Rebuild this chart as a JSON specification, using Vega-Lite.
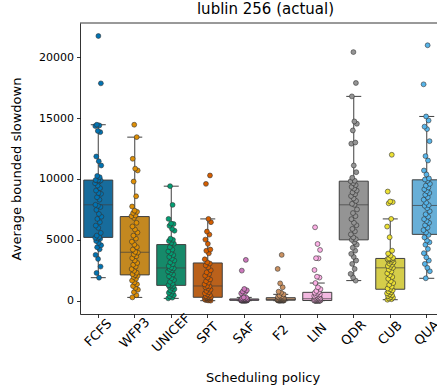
{
"$schema": "https://vega.github.io/schema/vega-lite/v6.json",
"width": 357, "height": 291,
"autosize": {"type": "none"},
"padding": {"left": 80, "top": 23, "right": 0, "bottom": 77},
"background": "white",
"title": {"text": "lublin 256 (actual)", "fontSize": 15, "font": "DejaVu Sans", "fontWeight": "normal", "color": "black", "offset": 6, "anchor": "middle", "dx": 7},
"config": {
 "view": {"stroke": null},
 "font": "DejaVu Sans",
 "axis": {"labelFont": "DejaVu Sans", "titleFont": "DejaVu Sans", "labelColor": "black", "titleColor": "black", "tickColor": "black", "domainColor": "black", "domainWidth": 0.8, "tickWidth": 0.8, "tickSize": 3.5, "labelFontSize": 11, "titleFontSize": 13, "titleFontWeight": "normal", "grid": false}
},
"data": {"values": [
{"policy":"FCFS","value":1890},{"policy":"FCFS","value":2280},{"policy":"FCFS","value":2800},{"policy":"FCFS","value":3430},{"policy":"FCFS","value":3760},{"policy":"FCFS","value":4220},{"policy":"FCFS","value":4390},{"policy":"FCFS","value":4550},{"policy":"FCFS","value":4750},{"policy":"FCFS","value":4900},
{"policy":"FCFS","value":5080},{"policy":"FCFS","value":5120},{"policy":"FCFS","value":5170},{"policy":"FCFS","value":5230},{"policy":"FCFS","value":5350},{"policy":"FCFS","value":5570},{"policy":"FCFS","value":5980},{"policy":"FCFS","value":6170},{"policy":"FCFS","value":6450},{"policy":"FCFS","value":6720},
{"policy":"FCFS","value":6900},{"policy":"FCFS","value":7130},{"policy":"FCFS","value":7460},{"policy":"FCFS","value":7700},{"policy":"FCFS","value":7800},{"policy":"FCFS","value":7880},{"policy":"FCFS","value":8300},{"policy":"FCFS","value":8500},{"policy":"FCFS","value":8780},{"policy":"FCFS","value":8850},
{"policy":"FCFS","value":9050},{"policy":"FCFS","value":9250},{"policy":"FCFS","value":9460},{"policy":"FCFS","value":9650},{"policy":"FCFS","value":9800},{"policy":"FCFS","value":9880},{"policy":"FCFS","value":9880},{"policy":"FCFS","value":9900},{"policy":"FCFS","value":9920},{"policy":"FCFS","value":10150},
{"policy":"FCFS","value":10250},{"policy":"FCFS","value":11110},{"policy":"FCFS","value":11460},{"policy":"FCFS","value":11850},{"policy":"FCFS","value":13850},{"policy":"FCFS","value":13950},{"policy":"FCFS","value":14350},{"policy":"FCFS","value":14400},{"policy":"FCFS","value":14460},{"policy":"FCFS","value":17860},
{"policy":"FCFS","value":21750},
{"policy":"WFP3","value":270},{"policy":"WFP3","value":450},{"policy":"WFP3","value":700},{"policy":"WFP3","value":900},{"policy":"WFP3","value":1050},{"policy":"WFP3","value":1200},{"policy":"WFP3","value":1350},{"policy":"WFP3","value":1500},{"policy":"WFP3","value":1650},{"policy":"WFP3","value":1800},
{"policy":"WFP3","value":1950},{"policy":"WFP3","value":2050},{"policy":"WFP3","value":2100},{"policy":"WFP3","value":2180},{"policy":"WFP3","value":2300},{"policy":"WFP3","value":2450},{"policy":"WFP3","value":2600},{"policy":"WFP3","value":2800},{"policy":"WFP3","value":2950},{"policy":"WFP3","value":3100},
{"policy":"WFP3","value":3300},{"policy":"WFP3","value":3500},{"policy":"WFP3","value":3650},{"policy":"WFP3","value":3800},{"policy":"WFP3","value":3950},{"policy":"WFP3","value":4010},{"policy":"WFP3","value":4200},{"policy":"WFP3","value":4400},{"policy":"WFP3","value":4600},{"policy":"WFP3","value":4850},
{"policy":"WFP3","value":5100},{"policy":"WFP3","value":5350},{"policy":"WFP3","value":5600},{"policy":"WFP3","value":5850},{"policy":"WFP3","value":6100},{"policy":"WFP3","value":6400},{"policy":"WFP3","value":6800},{"policy":"WFP3","value":6950},{"policy":"WFP3","value":7000},{"policy":"WFP3","value":7200},
{"policy":"WFP3","value":7300},{"policy":"WFP3","value":7400},{"policy":"WFP3","value":7740},{"policy":"WFP3","value":8580},{"policy":"WFP3","value":9790},{"policy":"WFP3","value":10700},{"policy":"WFP3","value":10850},{"policy":"WFP3","value":11660},{"policy":"WFP3","value":13440},{"policy":"WFP3","value":14460},
{"policy":"UNICEF","value":190},{"policy":"UNICEF","value":250},{"policy":"UNICEF","value":350},{"policy":"UNICEF","value":450},{"policy":"UNICEF","value":550},{"policy":"UNICEF","value":650},{"policy":"UNICEF","value":750},{"policy":"UNICEF","value":850},{"policy":"UNICEF","value":950},{"policy":"UNICEF","value":1050},
{"policy":"UNICEF","value":1150},{"policy":"UNICEF","value":1200},{"policy":"UNICEF","value":1250},{"policy":"UNICEF","value":1280},{"policy":"UNICEF","value":1400},{"policy":"UNICEF","value":1550},{"policy":"UNICEF","value":1700},{"policy":"UNICEF","value":1850},{"policy":"UNICEF","value":2000},{"policy":"UNICEF","value":2150},
{"policy":"UNICEF","value":2300},{"policy":"UNICEF","value":2400},{"policy":"UNICEF","value":2500},{"policy":"UNICEF","value":2600},{"policy":"UNICEF","value":2650},{"policy":"UNICEF","value":2730},{"policy":"UNICEF","value":2850},{"policy":"UNICEF","value":3000},{"policy":"UNICEF","value":3150},{"policy":"UNICEF","value":3300},
{"policy":"UNICEF","value":3450},{"policy":"UNICEF","value":3600},{"policy":"UNICEF","value":3750},{"policy":"UNICEF","value":3900},{"policy":"UNICEF","value":4050},{"policy":"UNICEF","value":4200},{"policy":"UNICEF","value":4400},{"policy":"UNICEF","value":4680},{"policy":"UNICEF","value":4750},{"policy":"UNICEF","value":4900},
{"policy":"UNICEF","value":5000},{"policy":"UNICEF","value":5100},{"policy":"UNICEF","value":5750},{"policy":"UNICEF","value":5900},{"policy":"UNICEF","value":6150},{"policy":"UNICEF","value":6300},{"policy":"UNICEF","value":6340},{"policy":"UNICEF","value":6720},{"policy":"UNICEF","value":7870},{"policy":"UNICEF","value":9410},
{"policy":"SPT","value":0},{"policy":"SPT","value":20},{"policy":"SPT","value":50},{"policy":"SPT","value":80},{"policy":"SPT","value":100},{"policy":"SPT","value":130},{"policy":"SPT","value":160},{"policy":"SPT","value":190},{"policy":"SPT","value":210},{"policy":"SPT","value":230},
{"policy":"SPT","value":250},{"policy":"SPT","value":260},{"policy":"SPT","value":270},{"policy":"SPT","value":290},{"policy":"SPT","value":330},{"policy":"SPT","value":380},{"policy":"SPT","value":450},{"policy":"SPT","value":520},{"policy":"SPT","value":600},{"policy":"SPT","value":700},
{"policy":"SPT","value":800},{"policy":"SPT","value":900},{"policy":"SPT","value":1000},{"policy":"SPT","value":1100},{"policy":"SPT","value":1180},{"policy":"SPT","value":1210},{"policy":"SPT","value":1350},{"policy":"SPT","value":1480},{"policy":"SPT","value":1600},{"policy":"SPT","value":1750},
{"policy":"SPT","value":1900},{"policy":"SPT","value":2050},{"policy":"SPT","value":2200},{"policy":"SPT","value":2330},{"policy":"SPT","value":2500},{"policy":"SPT","value":2740},{"policy":"SPT","value":2900},{"policy":"SPT","value":3050},{"policy":"SPT","value":3150},{"policy":"SPT","value":3400},
{"policy":"SPT","value":3890},{"policy":"SPT","value":4100},{"policy":"SPT","value":4200},{"policy":"SPT","value":4670},{"policy":"SPT","value":5020},{"policy":"SPT","value":5430},{"policy":"SPT","value":5680},{"policy":"SPT","value":6450},{"policy":"SPT","value":6720},{"policy":"SPT","value":9600},
{"policy":"SPT","value":10290},
{"policy":"SAF","value":0},{"policy":"SAF","value":0},{"policy":"SAF","value":5},{"policy":"SAF","value":5},{"policy":"SAF","value":10},{"policy":"SAF","value":10},{"policy":"SAF","value":10},{"policy":"SAF","value":15},{"policy":"SAF","value":15},{"policy":"SAF","value":20},
{"policy":"SAF","value":20},{"policy":"SAF","value":25},{"policy":"SAF","value":30},{"policy":"SAF","value":35},{"policy":"SAF","value":40},{"policy":"SAF","value":40},{"policy":"SAF","value":45},{"policy":"SAF","value":50},{"policy":"SAF","value":50},{"policy":"SAF","value":55},
{"policy":"SAF","value":55},{"policy":"SAF","value":60},{"policy":"SAF","value":60},{"policy":"SAF","value":60},{"policy":"SAF","value":60},{"policy":"SAF","value":65},{"policy":"SAF","value":70},{"policy":"SAF","value":75},{"policy":"SAF","value":80},{"policy":"SAF","value":85},
{"policy":"SAF","value":90},{"policy":"SAF","value":95},{"policy":"SAF","value":100},{"policy":"SAF","value":105},{"policy":"SAF","value":110},{"policy":"SAF","value":120},{"policy":"SAF","value":130},{"policy":"SAF","value":145},{"policy":"SAF","value":150},{"policy":"SAF","value":170},
{"policy":"SAF","value":200},{"policy":"SAF","value":240},{"policy":"SAF","value":270},{"policy":"SAF","value":600},{"policy":"SAF","value":700},{"policy":"SAF","value":750},{"policy":"SAF","value":850},{"policy":"SAF","value":960},{"policy":"SAF","value":2470},{"policy":"SAF","value":3350},
{"policy":"F2","value":0},{"policy":"F2","value":5},{"policy":"F2","value":10},{"policy":"F2","value":10},{"policy":"F2","value":15},{"policy":"F2","value":20},{"policy":"F2","value":20},{"policy":"F2","value":25},{"policy":"F2","value":25},{"policy":"F2","value":30},
{"policy":"F2","value":30},{"policy":"F2","value":35},{"policy":"F2","value":40},{"policy":"F2","value":40},{"policy":"F2","value":45},{"policy":"F2","value":50},{"policy":"F2","value":55},{"policy":"F2","value":60},{"policy":"F2","value":65},{"policy":"F2","value":70},
{"policy":"F2","value":75},{"policy":"F2","value":80},{"policy":"F2","value":85},{"policy":"F2","value":85},{"policy":"F2","value":90},{"policy":"F2","value":95},{"policy":"F2","value":100},{"policy":"F2","value":110},{"policy":"F2","value":120},{"policy":"F2","value":130},
{"policy":"F2","value":140},{"policy":"F2","value":150},{"policy":"F2","value":160},{"policy":"F2","value":170},{"policy":"F2","value":190},{"policy":"F2","value":210},{"policy":"F2","value":230},{"policy":"F2","value":250},{"policy":"F2","value":270},{"policy":"F2","value":290},
{"policy":"F2","value":320},{"policy":"F2","value":360},{"policy":"F2","value":420},{"policy":"F2","value":520},{"policy":"F2","value":650},{"policy":"F2","value":740},{"policy":"F2","value":1100},{"policy":"F2","value":1420},{"policy":"F2","value":2610},{"policy":"F2","value":3760},
{"policy":"LIN","value":0},{"policy":"LIN","value":0},{"policy":"LIN","value":5},{"policy":"LIN","value":5},{"policy":"LIN","value":10},{"policy":"LIN","value":10},{"policy":"LIN","value":10},{"policy":"LIN","value":10},{"policy":"LIN","value":10},{"policy":"LIN","value":10},
{"policy":"LIN","value":10},{"policy":"LIN","value":10},{"policy":"LIN","value":10},{"policy":"LIN","value":15},{"policy":"LIN","value":20},{"policy":"LIN","value":25},{"policy":"LIN","value":30},{"policy":"LIN","value":40},{"policy":"LIN","value":50},{"policy":"LIN","value":60},
{"policy":"LIN","value":70},{"policy":"LIN","value":80},{"policy":"LIN","value":100},{"policy":"LIN","value":120},{"policy":"LIN","value":140},{"policy":"LIN","value":160},{"policy":"LIN","value":180},{"policy":"LIN","value":200},{"policy":"LIN","value":230},{"policy":"LIN","value":260},
{"policy":"LIN","value":300},{"policy":"LIN","value":340},{"policy":"LIN","value":380},{"policy":"LIN","value":420},{"policy":"LIN","value":470},{"policy":"LIN","value":520},{"policy":"LIN","value":580},{"policy":"LIN","value":650},{"policy":"LIN","value":720},{"policy":"LIN","value":800},
{"policy":"LIN","value":950},{"policy":"LIN","value":1100},{"policy":"LIN","value":1450},{"policy":"LIN","value":1900},{"policy":"LIN","value":1970},{"policy":"LIN","value":2520},{"policy":"LIN","value":3480},{"policy":"LIN","value":3490},{"policy":"LIN","value":4170},{"policy":"LIN","value":4660},
{"policy":"LIN","value":6030},
{"policy":"QDR","value":1650},{"policy":"QDR","value":1900},{"policy":"QDR","value":2200},{"policy":"QDR","value":2610},{"policy":"QDR","value":3020},{"policy":"QDR","value":3300},{"policy":"QDR","value":3600},{"policy":"QDR","value":3850},{"policy":"QDR","value":4110},{"policy":"QDR","value":4350},
{"policy":"QDR","value":4600},{"policy":"QDR","value":4800},{"policy":"QDR","value":5000},{"policy":"QDR","value":5050},{"policy":"QDR","value":5200},{"policy":"QDR","value":5450},{"policy":"QDR","value":5700},{"policy":"QDR","value":5900},{"policy":"QDR","value":6200},{"policy":"QDR","value":6400},
{"policy":"QDR","value":6700},{"policy":"QDR","value":6950},{"policy":"QDR","value":7200},{"policy":"QDR","value":7500},{"policy":"QDR","value":7880},{"policy":"QDR","value":7960},{"policy":"QDR","value":8200},{"policy":"QDR","value":8400},{"policy":"QDR","value":8600},{"policy":"QDR","value":8750},
{"policy":"QDR","value":8900},{"policy":"QDR","value":9050},{"policy":"QDR","value":9200},{"policy":"QDR","value":9350},{"policy":"QDR","value":9500},{"policy":"QDR","value":9650},{"policy":"QDR","value":9820},{"policy":"QDR","value":9850},{"policy":"QDR","value":10100},{"policy":"QDR","value":10560},
{"policy":"QDR","value":11110},{"policy":"QDR","value":12900},{"policy":"QDR","value":13000},{"policy":"QDR","value":13990},{"policy":"QDR","value":14540},{"policy":"QDR","value":14730},{"policy":"QDR","value":16790},{"policy":"QDR","value":17890},{"policy":"QDR","value":20430},
{"policy":"CUB","value":80},{"policy":"CUB","value":120},{"policy":"CUB","value":180},{"policy":"CUB","value":250},{"policy":"CUB","value":300},{"policy":"CUB","value":380},{"policy":"CUB","value":450},{"policy":"CUB","value":520},{"policy":"CUB","value":600},{"policy":"CUB","value":680},
{"policy":"CUB","value":760},{"policy":"CUB","value":850},{"policy":"CUB","value":940},{"policy":"CUB","value":1000},{"policy":"CUB","value":1150},{"policy":"CUB","value":1300},{"policy":"CUB","value":1450},{"policy":"CUB","value":1600},{"policy":"CUB","value":1800},{"policy":"CUB","value":1950},
{"policy":"CUB","value":2100},{"policy":"CUB","value":2250},{"policy":"CUB","value":2400},{"policy":"CUB","value":2550},{"policy":"CUB","value":2700},{"policy":"CUB","value":2780},{"policy":"CUB","value":2850},{"policy":"CUB","value":2950},{"policy":"CUB","value":3050},{"policy":"CUB","value":3150},
{"policy":"CUB","value":3200},{"policy":"CUB","value":3300},{"policy":"CUB","value":3350},{"policy":"CUB","value":3400},{"policy":"CUB","value":3420},{"policy":"CUB","value":3450},{"policy":"CUB","value":3470},{"policy":"CUB","value":3520},{"policy":"CUB","value":3700},{"policy":"CUB","value":3870},
{"policy":"CUB","value":4110},{"policy":"CUB","value":5210},{"policy":"CUB","value":6090},{"policy":"CUB","value":6720},{"policy":"CUB","value":8000},{"policy":"CUB","value":8100},{"policy":"CUB","value":8150},{"policy":"CUB","value":8970},{"policy":"CUB","value":11990},
{"policy":"QUA","value":1840},{"policy":"QUA","value":2420},{"policy":"QUA","value":2700},{"policy":"QUA","value":3020},{"policy":"QUA","value":3300},{"policy":"QUA","value":3560},{"policy":"QUA","value":3900},{"policy":"QUA","value":4250},{"policy":"QUA","value":4600},{"policy":"QUA","value":4800},
{"policy":"QUA","value":4940},{"policy":"QUA","value":5200},{"policy":"QUA","value":5400},{"policy":"QUA","value":5600},{"policy":"QUA","value":5800},{"policy":"QUA","value":6000},{"policy":"QUA","value":6200},{"policy":"QUA","value":6400},{"policy":"QUA","value":6550},{"policy":"QUA","value":6700},
{"policy":"QUA","value":6900},{"policy":"QUA","value":7100},{"policy":"QUA","value":7350},{"policy":"QUA","value":7600},{"policy":"QUA","value":7800},{"policy":"QUA","value":7850},{"policy":"QUA","value":8050},{"policy":"QUA","value":8300},{"policy":"QUA","value":8500},{"policy":"QUA","value":8700},
{"policy":"QUA","value":8850},{"policy":"QUA","value":9000},{"policy":"QUA","value":9150},{"policy":"QUA","value":9300},{"policy":"QUA","value":9450},{"policy":"QUA","value":9600},{"policy":"QUA","value":9850},{"policy":"QUA","value":9960},{"policy":"QUA","value":10050},{"policy":"QUA","value":10370},
{"policy":"QUA","value":10700},{"policy":"QUA","value":11520},{"policy":"QUA","value":11880},{"policy":"QUA","value":13110},{"policy":"QUA","value":14100},{"policy":"QUA","value":14300},{"policy":"QUA","value":14810},{"policy":"QUA","value":15140},{"policy":"QUA","value":17780},{"policy":"QUA","value":20990}
]},
"layer": [
 {
  "mark": {"type": "boxplot", "extent": 1.5, "size": 29, "outliers": false,
   "box": {"stroke": "#3f3f3f", "strokeWidth": 1},
   "median": {"color": "#3f3f3f", "strokeWidth": 1},
   "rule": {"color": "#3f3f3f", "strokeWidth": 1},
   "ticks": {"color": "#3f3f3f", "size": 15, "strokeWidth": 1}},
  "encoding": {
   "x": {"field": "policy", "type": "nominal",
    "sort": ["FCFS","WFP3","UNICEF","SPT","SAF","F2","LIN","QDR","CUB","QUA"],
    "scale": {"range": [0, 365], "paddingInner": 0, "paddingOuter": 0},
    "axis": {"title": "Scheduling policy", "labelFontSize": 13, "labelAngle": -45, "labelAlign": "center", "labelBaseline": "middle", "labelPadding": 15, "titleY": 67, "titleBaseline": "alphabetic",
     "encode": {"labels": {"update": {"dx": {"signal": "-2*length(datum.label)"}, "dy": {"signal": "2*length(datum.label)"}}}}}},
   "y": {"field": "value", "type": "quantitative",
    "scale": {"domain": [-1095, 22820], "nice": false, "zero": false},
    "axis": {"title": "Average bounded slowdown", "values": [0, 5000, 10000, 15000, 20000], "format": "d", "labelPadding": 3, "titleX": -64, "titleBaseline": "middle"}},
   "color": {"field": "policy", "type": "nominal", "legend": null,
    "scale": {"domain": ["FCFS","WFP3","UNICEF","SPT","SAF","F2","LIN","QDR","CUB","QUA"],
     "range": ["#176c9c","#c38820","#168a6a","#ba611b","#c282b6","#bd926e","#f2b8e0","#949494","#d5cd4a","#68afd7"]}}
  }
 },
 {
  "transform": [
   {"window": [{"op": "row_number", "as": "idx"}]},
   {"calculate": "(datum.idx * 0.618034) % 1 - 0.5", "as": "jit"}
  ],
  "mark": {"type": "circle", "size": 24, "stroke": "#333333", "strokeWidth": 0.6, "opacity": 1},
  "encoding": {
   "x": {"field": "policy", "type": "nominal", "sort": ["FCFS","WFP3","UNICEF","SPT","SAF","F2","LIN","QDR","CUB","QUA"]},
   "xOffset": {"field": "jit", "type": "quantitative", "scale": {"domain": [-2.8, 2.8]}},
   "y": {"field": "value", "type": "quantitative"},
   "fill": {"field": "policy", "type": "nominal", "legend": null,
    "scale": {"domain": ["FCFS","WFP3","UNICEF","SPT","SAF","F2","LIN","QDR","CUB","QUA"],
     "range": ["#0173b2","#de8f05","#029e73","#d55e00","#cc78bc","#ca9161","#fbafe4","#949494","#ece133","#56b4e9"]}}
  }
 },
 {
  "data": {"values": [{}]},
  "mark": {"type": "rule", "color": "black", "strokeWidth": 0.8},
  "encoding": {"y": {"datum": 22820}}
 }
]
}
